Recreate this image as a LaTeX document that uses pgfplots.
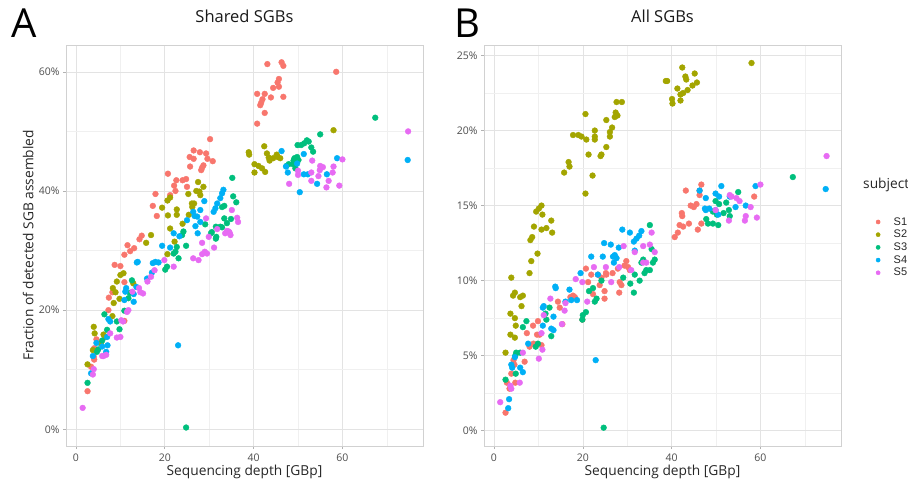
\documentclass[border=0pt]{standalone}
\usepackage{fontspec}
\setmainfont{Open Sans}
\newfontfamily\legfont{Liberation Sans}
\usepackage{pgfplots}
\pgfplotsset{compat=1.18}

\definecolor{sA}{HTML}{F8766D}
\definecolor{sB}{HTML}{A3A500}
\definecolor{sC}{HTML}{00BF7D}
\definecolor{sD}{HTML}{00B0F6}
\definecolor{sE}{HTML}{E76BF3}
\definecolor{tickgrey}{HTML}{4D4D4D}

\pgfplotsset{
  panel/.style={
    scale only axis, width=357pt, height=401pt, anchor=south west,
    xmin=-2.25, xmax=78.15,
    xtick={0,20,40,60}, minor xtick={10,30,50,70},
    grid=both,
    major grid style={color=black!11, line width=0.6pt},
    minor grid style={color=black!6, line width=0.5pt},
    axis line style={color=black!18, line width=0.6pt},
    tick align=outside, xtick pos=left, ytick pos=left,
    major tick length=3pt, minor tick length=0pt,
    tick style={color=black!30, line width=0.6pt},
    /pgf/number format/assume math mode=true,
    tick label style={font=\fontsize{10.5}{12}\selectfont, text=tickgrey},
    xticklabel style={yshift=-1.5pt},
    label style={font=\fontsize{13.75}{16}\selectfont, text=black!85},
    title style={font=\fontsize{16.5}{19}\selectfont, text=black!90},
    xlabel={Sequencing depth [GBp]},
    xlabel style={at={(axis description cs:0.5,-0.064)}, anchor=center},
    title style={at={(axis description cs:0.5,1.057)}, anchor=center},
    legend image code/.code={\path[draw=none,fill=none] (-8pt,-6.35pt) rectangle (14pt,6.35pt); \fill (0pt,0pt) circle (2.1pt);},
  },
  pts/.style={only marks, mark=*, mark size=2.9pt, color=#1},
}

\begin{document}
\begin{tikzpicture}
\path[use as bounding box] (0pt,0pt) rectangle (908pt,483pt);

% ---------------- Panel A: shared SGBs ----------------
\begin{axis}[panel, at={(66pt,37pt)},
  ymin=-2.8, ymax=64.5,
  ytick={0,20,40,60}, minor ytick={10,30,50},
  yticklabel={\pgfmathprintnumber{\tick}\%},
  title={Shared SGBs},
  ylabel={Fraction of detected SGB assembled},
  ylabel style={at={(axis description cs:-0.106,0.5)}, anchor=center},
]
\addplot[pts=sA] coordinates {
(43.1,61.3)(46.3,61.6)(46.7,61.0)(45.7,58.8)(45.4,58.2)(45.7,57.5)(44.4,57.3)(40.8,56.3)(42.5,56.3)(43.9,55.7)(46.7,55.8)(42.0,55.4)(41.7,54.8)(41.5,54.4)(42.5,53.1)(40.8,51.3)(58.6,60.0)
(30.2,48.7)(26.5,46.8)(27.9,46.5)(29.3,46.3)(25.6,45.7)(26.5,45.4)(29.6,45.4)(30.8,45.0)(28.7,44.3)(28.4,43.9)(25.7,44.1)(28.2,43.5)(20.7,42.9)(24.8,42.0)(22.6,41.8)(24.0,41.8)(22.1,40.9)(25.0,40.7)(22.4,40.0)(17.9,39.5)(21.2,39.3)(17.3,37.5)(18.2,35.8)(14.8,32.5)
(14.3,31.9)(11.6,30.9)(13.1,30.4)(12.2,29.9)(10.9,29.3)(8.7,27.6)(10.0,27.4)(10.9,24.7)(8.2,23.0)(7.4,22.1)(7.3,20.0)(10.9,18.2)(4.6,15.1)(4.1,13.6)(4.0,12.2)(4.1,11.7)(3.4,10.5)(2.6,6.4)
};
\addplot[pts=sB] coordinates {
(38.9,46.5)(39.0,46.1)(42.4,47.5)(43.0,46.3)(43.4,45.6)(43.6,45.1)(44.4,45.5)(45.4,45.7)(46.0,45.5)(45.2,46.1)(40.2,44.5)(41.1,44.2)(41.9,43.8)(42.6,43.2)(40.2,43.1)(58.0,50.2)
(27.5,41.5)(27.1,40.0)(27.8,39.9)(28.7,40.7)(28.0,39.3)(25.3,39.5)(20.6,38.4)(21.2,38.9)(22.7,36.9)(22.7,36.0)(20.7,35.9)(25.4,36.0)(26.1,37.9)(26.6,37.9)(26.2,37.3)(21.2,33.7)(24.0,34.5)(16.9,32.6)(15.8,31.3)(19.4,37.2)(22.2,31.5)(20.6,29.4)
(10.7,26.2)(10.0,25.9)(9.2,24.8)(8.3,23.7)(8.9,23.0)(8.5,21.2)(9.8,21.9)(8.2,19.0)(4.0,17.2)(4.2,16.1)(6.2,15.9)(6.6,15.5)(5.6,14.4)(3.8,13.3)(2.6,10.9)(12.9,24.5)
};
\addplot[pts=sC] coordinates {
(67.4,52.3)(49.9,47.7)(50.7,47.7)(52.0,48.5)(52.4,48.3)(51.4,48.0)(53.0,47.3)(53.4,46.6)(55.0,49.5)(49.8,45.7)(49.2,45.5)(50.1,45.2)(49.0,45.1)(48.9,44.5)(47.9,44.5)(47.4,44.2)(49.4,43.8)
(35.2,42.2)(35.4,39.1)(36.1,38.1)(33.4,37.5)(32.9,37.3)(34.9,35.3)(33.4,35.4)(32.5,34.0)(34.0,34.6)(30.6,33.1)(29.1,34.4)(31.6,32.3)(31.5,34.0)(32.9,33.9)(30.4,32.9)(31.5,32.0)(24.2,33.2)(23.9,32.6)(22.4,29.8)(23.1,28.7)(22.0,29.5)(20.5,27.3)(20.1,26.8)(24.8,30.8)(22.7,30.6)
(12.6,25.0)(12.1,22.9)(11.8,22.0)(10.9,19.9)(6.4,19.3)(9.2,18.1)(9.8,16.8)(5.9,14.9)(5.0,13.4)(7.0,16.7)(4.7,13.0)(2.6,7.8)(24.8,0.3)
};
\addplot[pts=sD] coordinates {
(74.7,45.2)(58.8,45.5)(46.3,46.7)(51.3,46.2)(47.3,44.1)(47.7,43.1)(51.3,42.8)(52.2,42.8)(54.3,41.2)(56.5,42.8)(50.4,39.8)(49.8,44.6)
(33.2,40.2)(32.9,39.6)(32.5,38.8)(31.8,37.9)(31.4,37.1)(31.0,36.5)(28.9,38.3)(28.0,36.8)(26.4,36.5)(26.7,35.8)(27.3,35.7)(25.0,35.1)(22.0,32.9)(26.9,34.1)(27.4,32.9)(28.0,34.8)(23.3,32.4)(19.4,30.8)(21.2,30.5)(17.9,28.1)(17.3,27.9)(18.6,28.0)(17.1,26.3)(13.9,28.1)(16.0,25.3)
(13.6,23.9)(13.0,22.7)(11.1,23.1)(10.9,21.7)(7.3,18.5)(7.7,18.1)(7.0,15.5)(5.9,13.9)(3.8,12.3)(3.4,9.4)(23.0,14.1)(11.3,23.7)(13.0,21.4)(4.6,14.5)(7.1,14.1)(6.8,13.0)(13.7,28.0)
};
\addplot[pts=sE] coordinates {
(74.8,50.0)(60.0,45.3)(58.0,44.1)(57.8,43.1)(59.3,40.9)(56.4,40.6)(56.9,41.7)(55.6,44.0)(55.0,44.2)(54.9,43.5)(53.2,45.1)(53.0,43.1)(53.0,41.7)(54.6,42.5)(50.0,43.4)(50.0,42.7)(48.0,41.2)
(36.3,35.5)(36.5,34.8)(35.1,36.8)(34.0,33.3)(34.6,33.0)(33.6,32.9)(31.8,33.6)(29.3,35.4)(29.9,32.3)(34.4,33.2)(34.8,32.6)(31.1,30.5)(29.5,29.5)(29.0,29.8)(28.4,29.4)(27.6,28.4)(26.4,28.7)(28.4,31.3)
(22.0,27.3)(19.9,28.4)(17.7,26.7)(16.9,25.6)(16.1,24.8)(15.1,22.8)(14.2,23.7)(11.5,19.7)(10.2,18.3)(10.0,15.5)(9.2,15.4)(7.7,16.1)(6.8,12.5)(5.9,12.3)(4.0,10.1)(3.8,9.2)(1.5,3.6)(14.5,23.0)(12.7,23.1)(11.8,20.0)(10.6,18.1)(6.2,12.3)
};
\end{axis}

% ---------------- Panel B: all SGBs ----------------
\begin{axis}[panel, at={(484pt,37pt)},
  ymin=-1.02, ymax=25.7,
  ytick={0,5,...,25}, minor ytick={2.5,7.5,...,22.5},
  yticklabel={\pgfmathprintnumber{\tick}\%},
  title={All SGBs},
  legend style={at={(axis description cs:1.081,0.575)}, anchor=north west,
    draw=none, fill=none, inner sep=0pt, row sep=0pt,
    font=\legfont\fontsize{11}{13}\selectfont,
    nodes={inner sep=1.6pt, text=black!85}},
  legend cell align=left,
]
\addplot[pts=sA] coordinates {
(46.7,16.4)(46.3,16.0)(43.2,16.0)(46.3,15.7)(44.3,15.0)(45.6,15.1)(45.0,14.9)(42.3,14.5)(42.4,14.3)(41.8,13.7)(42.6,13.6)(43.9,13.8)(46.7,13.8)(45.9,13.4)(41.4,13.2)(40.7,12.9)(58.6,15.6)
(29.8,11.3)(29.4,11.0)(30.2,10.9)(27.9,10.8)(26.7,10.5)(25.3,10.4)(23.4,10.4)(21.9,10.4)(21.2,9.9)(24.2,10.2)(23.8,9.7)(24.9,9.3)(24.9,8.8)(28.3,9.9)(28.7,9.7)(28.2,9.2)(20.7,10.8)(17.8,9.0)(17.2,8.9)(18.2,8.9)(14.4,8.6)(14.8,8.2)(15.4,7.1)
(9.9,7.3)(8.8,7.0)(7.4,6.5)(10.3,6.4)(10.7,5.7)(8.0,5.6)(6.9,4.6)(3.9,3.8)(2.9,3.2)(3.5,2.8)(2.6,1.2)(25.2,10.5)(30.6,10.7)(22.3,9.1)(19.9,7.4)(9.7,6.4)(8.9,5.8)(4.4,4.7)(4.6,4.4)(4.8,3.2)
};
\addlegendentry{S1}
\addplot[pts=sB] coordinates {
(58.0,24.5)(42.4,24.2)(45.2,23.8)(43.1,23.6)(43.3,23.4)(39.0,23.3)(38.7,23.3)(45.7,23.2)(44.7,23.0)(41.3,22.8)(43.6,22.7)(42.6,22.5)(42.0,22.4)(40.1,22.1)(42.0,22.0)(40.2,21.8)
(27.6,21.9)(28.8,21.9)(27.4,21.2)(27.8,21.0)(27.2,20.9)(25.3,20.7)(20.6,21.1)(26.6,20.2)(26.1,19.9)(26.1,19.6)(22.7,20.0)(22.7,19.6)(22.7,19.4)(17.8,19.7)(19.0,19.7)(19.7,19.6)(20.8,19.4)(25.3,18.9)(24.2,18.4)(24.0,18.3)(21.3,18.4)(16.8,17.9)(17.0,17.6)(15.8,17.2)(22.2,17.0)(20.6,15.8)
(10.7,15.0)(10.1,14.8)(9.5,14.6)(10.9,14.4)(12.9,14.0)(9.0,13.6)(10.7,13.4)(11.8,13.5)(13.1,13.2)(8.6,12.9)(8.2,12.7)(9.8,11.8)(8.4,11.3)(8.0,10.5)(3.9,10.2)(4.3,9.0)(4.7,9.2)(5.9,8.9)(6.5,9.0)(6.2,8.3)(3.7,7.8)(4.7,7.5)(4.9,7.0)(3.7,6.4)(4.7,6.2)(2.6,5.2)
};
\addlegendentry{S2}
\addplot[pts=sC] coordinates {
(67.3,16.9)(55.0,15.9)(50.7,15.1)(49.9,15.3)(52.3,15.2)(52.9,14.7)(51.7,14.5)(53.1,14.3)(49.3,14.6)(50.2,14.4)(47.8,14.1)(48.2,13.8)(49.3,13.8)(50.5,13.7)(35.1,13.7)
(35.5,12.1)(36.2,11.4)(35.8,11.2)(35.1,10.7)(33.9,10.5)(32.8,10.0)(30.7,9.8)(31.5,9.2)(29.1,10.2)(33.2,11.2)(33.6,11.4)(34.3,10.7)(31.7,10.4)(24.2,10.0)(22.3,9.5)(21.4,9.3)(23.1,8.8)(22.7,8.6)(20.7,7.9)(19.9,7.4)(20.0,7.7)
(12.5,8.2)(12.9,6.3)(11.8,7.4)(9.4,5.6)(9.9,5.8)(7.3,7.3)(6.5,6.9)(5.0,5.2)(4.9,3.8)(2.6,3.4)(24.7,0.2)(5.9,5.2)(4.8,5.0)(11.6,7.8)
};
\addlegendentry{S3}
\addplot[pts=sD] coordinates {
(74.7,16.1)(58.9,16.3)(51.2,16.3)(46.3,16.0)(47.7,15.5)(49.9,15.8)(50.7,15.6)(53.1,15.6)(47.5,14.8)(47.7,14.7)(48.5,14.8)(50.5,14.4)(49.9,14.7)(56.7,15.0)(54.4,14.9)(33.2,13.3)
(28.9,13.4)(30.6,13.2)(32.7,13.0)(32.1,12.8)(31.5,12.6)(31.7,12.0)(24.8,12.5)(26.3,12.4)(28.1,12.2)(27.2,11.7)(26.8,11.6)(27.6,11.5)(21.9,11.6)(24.5,11.6)(27.0,11.2)(23.4,10.4)(19.5,10.5)
(13.9,9.5)(17.0,9.4)(18.7,8.7)(11.0,8.2)(13.4,7.6)(11.0,7.0)(12.9,6.8)(7.7,5.8)(4.7,4.9)(3.9,4.4)(6.5,3.9)(3.4,2.1)(3.2,1.5)(22.9,4.7)(13.8,9.6)(11.2,8.3)(13.4,6.7)(4.1,4.2)(5.9,4.2)(16.1,8.6)(17.4,8.7)
};
\addlegendentry{S4}
\addplot[pts=sE] coordinates {
(74.9,18.3)(60.0,16.4)(53.1,15.7)(53.5,15.6)(54.6,15.5)(55.3,15.3)(57.8,14.9)(56.7,14.3)(56.5,14.0)(59.2,14.2)(49.9,14.7)(52.9,14.0)(35.5,13.2)
(29.2,12.3)(31.7,11.9)(33.6,12.3)(35.1,12.4)(36.2,11.9)(33.6,11.2)(34.3,11.2)(30.9,10.7)(22.5,10.9)(25.2,10.9)(26.4,9.9)(21.0,8.6)(18.4,10.1)(19.9,9.9)(15.9,8.0)
(12.7,8.8)(11.2,7.7)(10.7,6.5)(10.9,5.4)(10.1,4.8)(6.5,5.2)(5.8,3.2)(3.9,2.8)(1.4,1.9)(28.2,10.9)(15.3,7.1)(3.7,3.0)(16.1,8.5)
};
\addlegendentry{S5}
\end{axis}

% panel tags and legend heading
\node[font=\fontsize{40}{44}\selectfont, anchor=center] at (24pt,460pt) {A};
\node[font=\fontsize{40}{44}\selectfont, anchor=center] at (467pt,460pt) {B};
\node[font=\fontsize{13.75}{16}\selectfont, anchor=west, inner sep=0pt, text=black!85] at (863pt,298pt) {subject};
\end{tikzpicture}
\end{document}
